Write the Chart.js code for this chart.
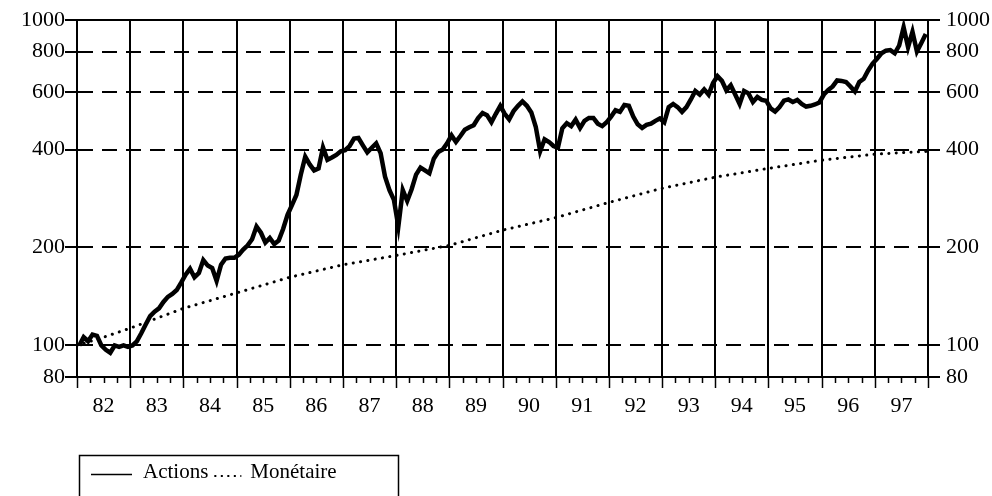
<!DOCTYPE html>
<html>
<head>
<meta charset="utf-8">
<script src="https://cdn.jsdelivr.net/npm/chart.js@4.4.1/dist/chart.umd.min.js"></script>
<style>
  html, body { margin: 0; padding: 0; background: #fff; }
</style>
</head>
<body>
<canvas id="myChart" width="992" height="496"></canvas>
<script>
var firstYear = 1982;
var years = [1982, 1983, 1984, 1985, 1986, 1987, 1988, 1989, 1990, 1991, 1992, 1993, 1994, 1995, 1996, 1997];
var yTicks = [80, 100, 200, 400, 600, 800, 1000];

// monthly index, Jan 1982 .. Dec 1997
var actions = [
  100, 106, 103, 108, 107, 100, 97, 95, 100, 99, 100, 99,      // 82
  100, 103, 109, 116, 123, 127, 130, 136, 141, 144, 148, 156,  // 83
  165, 172, 162, 167, 183, 176, 173, 158, 177, 185, 186, 186,  // 84
  190, 197, 203, 212, 232, 222, 207, 214, 205, 210, 228, 252,  // 85
  270, 290, 335, 380, 360, 345, 350, 406, 372, 378, 385, 395,  // 86
  398, 410, 432, 434, 412, 392, 405, 418, 390, 330, 300, 280,  // 87
  232, 300, 278, 302, 335, 352, 345, 338, 375, 393, 400, 418,  // 88
  442, 422, 440, 460, 468, 475, 500, 518, 510, 485, 515, 545,  // 89
  515, 495, 525, 545, 562, 545, 520, 470, 395, 430, 422, 410,  // 90
  405, 465, 482, 472, 494, 466, 490, 500, 500, 480, 472, 485,  // 91
  505, 528, 522, 548, 545, 505, 478, 466, 476, 480, 490, 498,  // 92
  485, 540, 552, 540, 522, 540, 570, 605, 590, 612, 590, 640,  // 93
  672, 650, 608, 630, 590, 552, 605, 595, 560, 580, 568, 565,  // 94
  535, 523, 540, 565, 570, 560, 568, 552, 542, 545, 550, 558,  // 95
  590, 610, 625, 652, 650, 645, 625, 603, 645, 660, 700, 735,  // 96
  760, 790, 805, 808, 790, 835, 950, 825, 920, 800, 850, 905   // 97
];

var monetaireYears = [1982, 1982.5, 1983, 1984, 1985, 1986, 1987, 1988, 1989, 1990, 1991, 1992, 1993, 1994, 1995, 1996, 1997, 1998];
var monetaireValues = [100, 106, 113, 130, 145, 162, 177, 189, 203, 226, 247, 275, 304, 329, 350, 371, 387, 395];

var font = "'Liberation Serif', 'Times New Roman', serif";

var actionsPoints = actions.map(function (v, i) {
  return { x: firstYear + (i + 0.5) / 12, y: v };
});
var monetairePoints = monetaireYears.map(function (t, i) {
  return { x: t, y: monetaireValues[i] };
});

var quarterTicks = [];
years.forEach(function (y) {
  [0, 0.25, 0.5, 0.75].forEach(function (q) { quarterTicks.push(y + q); });
});
quarterTicks.push(years[years.length - 1] + 1);

function setYTicks(scale) {
  scale.ticks = yTicks.map(function (v) { return { value: v }; });
}

var extras = {
  id: 'extras',
  afterDraw: function (chart) {
    var ctx = chart.ctx;
    var a = chart.chartArea;
    var xs = chart.scales.x;
    ctx.save();
    ctx.strokeStyle = '#000';
    ctx.fillStyle = '#000';

    // top frame
    ctx.lineWidth = 2;
    ctx.beginPath();
    ctx.moveTo(a.left, a.top);
    ctx.lineTo(a.right, a.top);
    ctx.stroke();

    // year / quarter ticks under the axis
    ctx.lineWidth = 1.5;
    quarterTicks.forEach(function (v) {
      var px = Math.round(xs.getPixelForValue(v)) + 0.5;
      var len = (v % 1 === 0) ? 11 : 6;
      ctx.beginPath();
      ctx.moveTo(px, a.bottom);
      ctx.lineTo(px, a.bottom + len);
      ctx.stroke();
    });

    // legend box
    var ds = chart.data.datasets;
    ctx.lineWidth = 1.5;
    ctx.strokeRect(79.5, 455.5, 319, 60);
    ctx.beginPath();
    ctx.moveTo(91, 474.5);
    ctx.lineTo(132, 474.5);
    ctx.stroke();
    ctx.font = '21px ' + font;
    ctx.textBaseline = 'alphabetic';
    ctx.textAlign = 'left';
    ctx.fillText(ds[0].label, 143, 478);
    var dotStart = 143 + ctx.measureText(ds[0].label).width + 6;
    ctx.setLineDash([2, 4.5]);
    ctx.lineWidth = 2;
    ctx.beginPath();
    ctx.moveTo(dotStart, 476);
    ctx.lineTo(dotStart + 27, 476);
    ctx.stroke();
    ctx.setLineDash([]);
    ctx.fillText(ds[1].label, dotStart + 36, 478);
    ctx.restore();
  }
};

new Chart('myChart', {
  type: 'line',
  data: {
    datasets: [{
      label: 'Actions',
      data: actionsPoints,
      borderColor: '#000',
      borderWidth: 4.5,
      pointRadius: 0,
      tension: 0,
      yAxisID: 'y'
    }, {
      label: 'Monétaire',
      data: monetairePoints,
      borderColor: '#000',
      borderWidth: 3,
      borderDash: [0.1, 7.3],
      borderCapStyle: 'round',
      pointRadius: 0,
      tension: 0,
      yAxisID: 'y'
    }]
  },
  options: {
    responsive: false,
    animation: false,
    layout: { padding: { top: 20, left: 0, right: 0, bottom: 0 } },
    plugins: {
      legend: { display: false },
      tooltip: { enabled: false }
    },
    scales: {
      x: {
        type: 'linear',
        position: 'bottom',
        min: 1982,
        max: 1998,
        afterBuildTicks: function (s) {
          s.ticks = quarterTicks.map(function (v) { return { value: v }; });
        },
        afterFit: function (s) { s.height = 119; },
        grid: {
          color: function (c) {
            return (c.tick && c.tick.value % 1 === 0) ? '#000' : 'rgba(0,0,0,0)';
          },
          lineWidth: 2,
          drawTicks: false
        },
        border: { display: true, color: '#000', width: 2 },
        ticks: {
          autoSkip: false,
          maxRotation: 0,
          padding: 16,
          color: '#000',
          font: { family: font, size: 22 },
          callback: function (v) {
            return (v % 1 === 0.5) ? String(Math.floor(v) % 100) : '';
          }
        }
      },
      y: {
        type: 'logarithmic',
        position: 'left',
        min: 80,
        max: 1000,
        afterBuildTicks: setYTicks,
        afterFit: function (s) { s.width = 77; },
        grid: {
          color: '#000',
          lineWidth: 2,
          tickLength: 12,
          tickColor: '#000',
          tickBorderDash: []
        },
        border: { display: true, color: '#000', width: 2, dash: [15, 9] },
        ticks: {
          padding: 0,
          color: '#000',
          font: { family: font, size: 22 },
          callback: function (v) { return String(v); }
        }
      },
      y2: {
        type: 'logarithmic',
        position: 'right',
        min: 80,
        max: 1000,
        afterBuildTicks: setYTicks,
        afterFit: function (s) { s.width = 64; },
        grid: {
          drawOnChartArea: false,
          color: '#000',
          lineWidth: 2,
          tickLength: 12
        },
        border: { display: true, color: '#000', width: 2 },
        ticks: {
          padding: 6,
          color: '#000',
          font: { family: font, size: 22 },
          callback: function (v) { return String(v); }
        }
      }
    }
  },
  plugins: [extras]
});
</script>
</body>
</html>
